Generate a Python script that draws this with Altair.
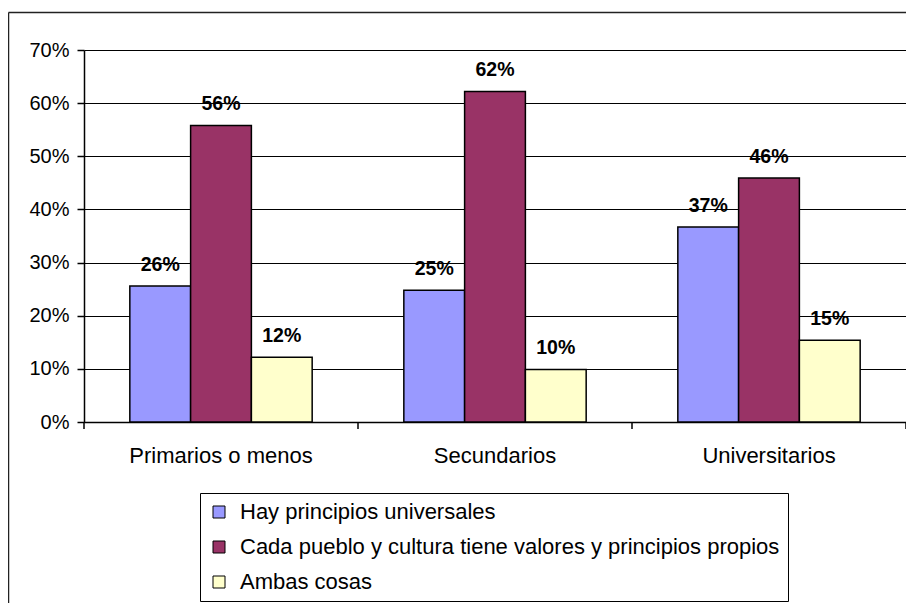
import altair as alt
import pandas as pd

categorias = ["Primarios o menos", "Secundarios", "Universitarios"]
series = [
    "Hay principios universales",
    "Cada pueblo y cultura tiene valores y principios propios",
    "Ambas cosas",
]
colores = ["#9999FF", "#993366", "#FFFFCC"]
valores_universales = [0.256, 0.248, 0.367]
valores_propios = [0.558, 0.622, 0.459]
valores_ambas = [0.122, 0.099, 0.154]
y_ticks = [0, 0.1, 0.2, 0.3, 0.4, 0.5, 0.6, 0.7]

rows = []
for s, vals in zip(series, [valores_universales, valores_propios, valores_ambas]):
    for c, v in zip(categorias, vals):
        rows.append({"nivel": c, "serie": s, "valor": v})
df = pd.DataFrame(rows)
cat_df = pd.DataFrame({"nivel": categorias})

W, H = 822, 372
FONT = "Liberation Sans"

x_scale = alt.Scale(paddingInner=0, paddingOuter=0)

x_enc = alt.X(
    "nivel:N",
    sort=categorias,
    scale=x_scale,
    axis=alt.Axis(
        title=None,
        ticks=False,
        domainColor="black",
        domainWidth=1.5,
        labelPadding=23,
        labelFontSize=22,
        labelFont=FONT,
        labelColor="black",
        labelAngle=0,
        labelLimit=400,
        grid=False,
    ),
)
xoff_enc = alt.XOffset(
    "serie:N", sort=series, scale=alt.Scale(paddingInner=0, paddingOuter=0.754)
)
y_enc = alt.Y(
    "valor:Q",
    scale=alt.Scale(domain=[0, 0.7], nice=False),
    axis=alt.Axis(
        title=None,
        values=y_ticks,
        format=".0%",
        tickSize=7,
        tickColor="black",
        tickWidth=1.5,
        domainColor="black",
        domainWidth=1.5,
        labelPadding=8,
        labelFontSize=20,
        labelFont=FONT,
        labelColor="black",
        grid=True,
        gridColor="black",
        gridWidth=1.2,
    ),
)

bars = alt.Chart(df).mark_bar(stroke="black", strokeWidth=1.5).encode(
    x=x_enc,
    xOffset=xoff_enc,
    y=y_enc,
    color=alt.Color(
        "serie:N",
        sort=series,
        scale=alt.Scale(domain=series, range=colores),
        legend=alt.Legend(
            title=None,
            orient="none",
            legendX=116,
            legendY=443,
            direction="vertical",
            symbolType="square",
            symbolSize=144,
            symbolStrokeColor="black",
            symbolStrokeWidth=1,
            symbolOpacity=1,
            labelFontSize=22,
            labelFont=FONT,
            labelColor="black",
            labelOffset=10,
            labelLimit=800,
            rowPadding=13,
            padding=8,
            strokeColor="black",
            fillColor="white",
        ),
    ),
)

labels = alt.Chart(df).mark_text(
    fontWeight="bold", fontSize=19.5, font=FONT, color="black", baseline="alphabetic", dy=-15
).encode(
    x=alt.X("nivel:N", sort=categorias),
    xOffset=alt.XOffset("serie:N", sort=series),
    y="valor:Q",
    text=alt.Text("valor:Q", format=".0%"),
)

# category boundary ticks below the x axis (band starts, plus end of last band)
ticks_start = alt.Chart(cat_df).mark_rule(color="black", strokeWidth=1.5).encode(
    x=alt.X("nivel:N", sort=categorias, bandPosition=0),
    y=alt.value(H),
    y2=alt.value(H + 7),
)
ticks_end = (
    alt.Chart(cat_df)
    .transform_filter(alt.datum.nivel == categorias[-1])
    .mark_rule(color="black", strokeWidth=1.5)
    .encode(
        x=alt.X("nivel:N", sort=categorias, bandPosition=1),
        y=alt.value(H),
        y2=alt.value(H + 7),
    )
)

frame_df = pd.DataFrame({"k": [0]})
top_line = alt.Chart(frame_df).mark_rule(color="#222", strokeWidth=1.5).encode(
    x=alt.value(-75.5), x2=alt.value(W + 10), y=alt.value(-37.5)
)
left_line = alt.Chart(frame_df).mark_rule(color="#222", strokeWidth=1.5).encode(
    x=alt.value(-75.5), y=alt.value(-37.5), y2=alt.value(H + 200)
)

chart = (
    alt.layer(bars, labels, ticks_start, ticks_end, top_line, left_line)
    .properties(
        width=W,
        height=H,
        autosize=alt.AutoSizeParams(type="none"),
        padding={"left": 76, "top": 42, "right": 0, "bottom": 181},
    )
    .configure_view(stroke="black", strokeWidth=1.5)
    .configure(background="white")
)

chart.save("out.html", embed_options={"renderer": "svg", "actions": False})
